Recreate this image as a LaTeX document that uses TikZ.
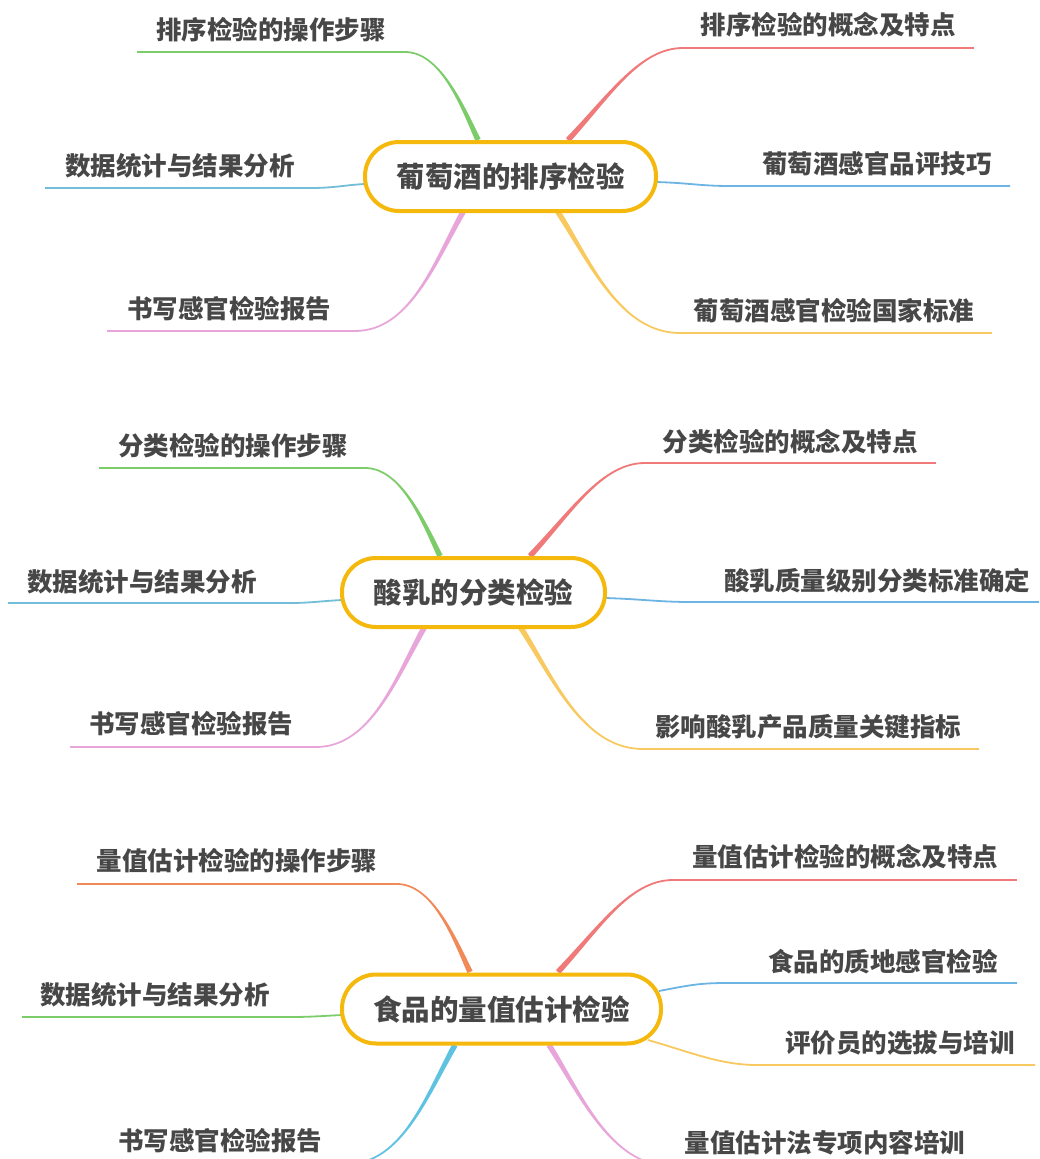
\documentclass[tikz,border=0pt]{standalone}
\usepackage{fontspec}
\setmainfont{Noto Sans CJK SC}
\usetikzlibrary{calc}
\definecolor{cgreen}{HTML}{7CCD6A}
\definecolor{cred}{HTML}{F07A7A}
\definecolor{cblueR}{HTML}{6CB4E4}
\definecolor{cblueL}{HTML}{72BDD8}
\definecolor{cyellow}{HTML}{F7C95E}
\definecolor{cpink}{HTML}{E8A5DA}
\definecolor{corange}{HTML}{F08A58}
\definecolor{ccyan}{HTML}{5FC2E0}
\definecolor{cgold}{HTML}{F5B80C}
\definecolor{ctext}{HTML}{474747}
\tikzset{
  lbl/.style={inner sep=0pt, text=ctext, font=\fontsize{25.5pt}{26pt}\selectfont\bfseries},
  topic/.style={draw=cgold, line width=4pt, fill=white, rounded corners=34pt,
     minimum height=69pt, inner sep=0pt, text=ctext,
     font=\fontsize{28.5pt}{29pt}\selectfont\bfseries},
  wire/.style={line width=1.8pt}
}
\newcommand\tapercurve[6]{%
  \path ($(#2)!#6!90:(#3)$) coordinate (tA)
        ($(#2)!#6!-90:(#3)$) coordinate (tB)
        ($(#5)!0.9pt!-90:(#4)$) coordinate (tC)
        ($(#5)!0.9pt!90:(#4)$) coordinate (tD);
  \fill[#1] (tA) .. controls ($(#3)+0.6*(tA)-0.6*(#2)$) and ($(#4)+(tC)-(#5)$) .. (tC)
     -- (tD) .. controls ($(#4)+(tD)-(#5)$) and ($(#3)+0.6*(tB)-0.6*(#2)$) .. (tB) -- cycle;
}
% tapered branch: color, P0, C1, C2, P3, F, text pos, text, name
\newcommand\tbranch[9]{%
  \coordinate (#9-p0) at (#2); \coordinate (#9-j) at (#5); \coordinate (#9-f) at (#6);
  \node[lbl] (#9) at (#7) {#8};
  \draw[#1, wire] (#9-f) -- (#9-j);
  \tapercurve{#1}{#9-p0}{#3}{#4}{#9-j}{2.8pt}
}
\newcommand\sbranch[9]{%
  \coordinate (#9-p0) at (#2); \coordinate (#9-j) at (#5); \coordinate (#9-f) at (#6);
  \node[lbl] (#9) at (#7) {#8};
  \draw[#1, wire] (#9-p0) .. controls (#3) and (#4) .. (#9-j) -- (#9-f);
}
\begin{document}
\begin{tikzpicture}[x=1pt,y=-1pt]
\useasboundingbox (0,0) rectangle (1039,1159);
\clip (0,0) rectangle (1039,1159);
% ---------- map 1 ----------
\tbranch{cgreen}{478,140}{462,105}{440,52}{405,52}{137,52}{271,30}{排序检验的操作步骤}{a1}
\tbranch{cred}{568,140}{610,95}{640,48}{683,48}{974,48}{828,25}{排序检验的概念及特点}{a2}
\sbranch{cblueR}{656,182}{690,183}{700,186}{730,186}{1010,186}{877,164}{葡萄酒感官品评技巧}{a3}
\tbranch{cyellow}{558,212}{590,262}{620,333}{680,333}{992,333}{834,311}{葡萄酒感官检验国家标准}{a4}
\sbranch{cblueL}{365,184}{345,185}{335,188}{310,188}{45,188}{180,166}{数据统计与结果分析}{a5}
\tbranch{cpink}{463,212}{435,262}{410,331}{355,331}{107,331}{229,309}{书写感官检验报告}{a6}
\node[topic, minimum width=291pt] (n1) at (510.5,176.5) {葡萄酒的排序检验};
% ---------- map 2 ----------
\tbranch{cgreen}{440,556}{422,518}{400,468}{365,468}{99,468}{233,446}{分类检验的操作步骤}{b1}
\tbranch{cred}{530,556}{572,511}{602,463}{645,463}{936,463}{790,442}{分类检验的概念及特点}{b2}
\sbranch{cblueR}{605,598}{640,599}{660,602}{690,602}{1039,602}{877,581}{酸乳质量级别分类标准确定}{b3}
\tbranch{cyellow}{521,628}{553,678}{583,749}{643,749}{979,749}{808,727}{影响酸乳产品质量关键指标}{b4}
\sbranch{cblueL}{342,600}{322,601}{310,603}{290,603}{8,603}{142,582}{数据统计与结果分析}{b5}
\tbranch{cpink}{424,628}{396,678}{371,747}{316,747}{70,747}{191,724}{书写感官检验报告}{b6}
\node[topic, minimum width=263pt] (n2) at (473.5,592.5) {酸乳的分类检验};
% ---------- map 3 ----------
\tbranch{corange}{470,972}{454,937}{432,884}{397,884}{77,884}{237,861}{量值估计检验的操作步骤}{c1}
\tbranch{cred}{558,972}{600,927}{630,880}{673,880}{1017,880}{845,857}{量值估计检验的概念及特点}{c2}
\sbranch{cblueR}{659,991}{690,985}{700,983}{727,983}{1017,983}{883,962}{食品的质地感官检验}{c3}
\sbranch{cyellow}{648,1040}{690,1052}{720,1065}{757,1065}{1035,1065}{900,1043}{评价员的选拔与培训}{c4}
\sbranch{cgreen}{342,1015}{322,1016}{310,1017}{290,1017}{22,1017}{155,995}{数据统计与结果分析}{c5}
\tbranch{ccyan}{455,1045}{427,1095}{402,1164}{347,1164}{99,1164}{220,1141}{书写感官检验报告}{c6}
\tbranch{cpink}{549,1045}{581,1095}{611,1166}{671,1166}{983,1166}{825,1143}{量值估计法专项内容培训}{c7}
\node[topic, minimum width=319pt] (n3) at (501.5,1009) {食品的量值估计检验};
\end{tikzpicture}
\end{document}
